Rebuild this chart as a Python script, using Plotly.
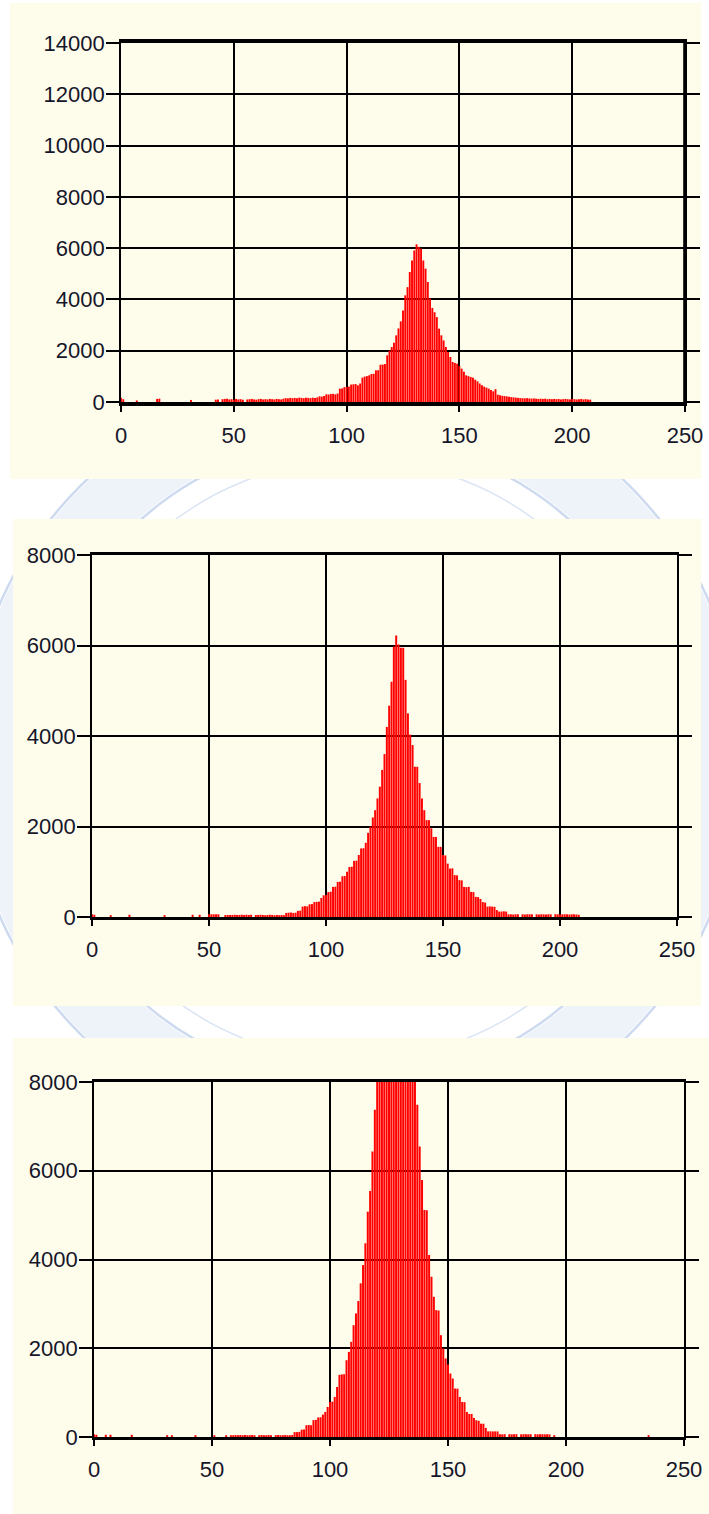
import plotly.graph_objects as go

W, H = 709, 1514

# ---------------- data (grey-level histograms, bins 0..255) ----------------
bins = list(range(256))

hist_top = [
    170, 110, 0, 0, 0, 0, 0, 60, 0, 0, 0, 0, 0, 0, 0, 0,
    120, 130, 0, 0, 0, 0, 0, 0, 0, 0, 0, 0, 0, 0, 0, 80,
    0, 0, 0, 0, 0, 0, 0, 0, 0, 0, 90, 100, 0, 110, 120, 130,
    100, 110, 90, 120, 100, 110, 90, 0, 100, 110, 120, 100, 90, 110, 120, 100,
    110, 100, 120, 110, 100, 120, 110, 100, 130, 150, 140, 160, 150, 160, 150, 170,
    160, 150, 170, 160, 150, 170, 160, 180, 220, 210, 230, 300, 290, 310, 320, 300,
    330, 520, 530, 580, 590, 600, 680, 690, 700, 650, 720, 950, 990, 1010, 1040, 1090,
    1100, 1235, 1240, 1450, 1460, 1480, 1820, 2000, 2145, 2310, 2600, 2870, 3145, 3570, 4160, 4480,
    5070, 5520, 5910, 6150, 6050, 5980, 5520, 5200, 4680, 4030, 3670, 3500, 3310, 2860, 2600, 2400,
    2145, 1950, 1755, 1560, 1520, 1494, 1400, 1300, 1180, 1040, 1010, 975, 950, 870, 806, 720,
    650, 600, 560, 520, 470, 416, 500, 286, 260, 240, 230, 220, 200, 190, 180, 170,
    160, 150, 150, 140, 150, 140, 130, 140, 130, 120, 130, 120, 130, 110, 120, 110,
    120, 110, 120, 100, 110, 120, 110, 100, 120, 110, 100, 110, 120, 100, 110, 100,
    90, 0, 0, 0, 0, 0, 0, 0, 0, 0, 0, 0, 0, 0, 0, 0,
    0, 0, 0, 0, 0, 0, 0, 0, 0, 0, 0, 0, 0, 0, 0, 0,
    0, 0, 0, 0, 0, 0, 0, 0, 0, 0, 0, 0, 0, 0, 0, 0,
]

hist_mid = [
    60, 50, 0, 0, 0, 0, 0, 0, 40, 0, 0, 0, 0, 0, 0, 0,
    50, 0, 0, 0, 0, 0, 0, 0, 0, 0, 0, 0, 0, 0, 0, 40,
    0, 0, 0, 0, 0, 0, 0, 0, 0, 0, 0, 50, 0, 0, 50, 0,
    0, 0, 60, 60, 60, 60, 60, 0, 0, 45, 45, 45, 45, 50, 45, 45,
    50, 45, 50, 45, 50, 0, 45, 45, 50, 45, 40, 45, 50, 45, 40, 45,
    40, 45, 40, 90, 95, 100, 90, 95, 135, 140, 230, 240, 235, 280, 285, 330,
    335, 340, 420, 480, 485, 550, 560, 665, 670, 775, 780, 900, 905, 1000, 1105, 1110,
    1240, 1245, 1370, 1515, 1520, 1640, 1860, 1995, 2200, 2360, 2620, 2880, 3250, 3600, 4200, 4670,
    5200, 5980, 6220, 6020, 5950, 5950, 5240, 4500, 4030, 3800, 3320, 3320, 2960, 2620, 2360, 2140,
    2140, 1960, 1770, 1770, 1550, 1550, 1370, 1360, 1180, 1070, 1075, 925, 920, 815, 810, 665,
    660, 665, 555, 550, 445, 440, 400, 330, 320, 230, 235, 230, 225, 155, 120, 120,
    125, 120, 60, 60, 55, 60, 60, 0, 60, 55, 60, 60, 60, 0, 60, 55,
    60, 60, 55, 60, 60, 0, 60, 60, 55, 60, 60, 60, 55, 60, 60, 55,
    50, 0, 0, 0, 0, 0, 0, 0, 0, 0, 0, 0, 0, 0, 0, 0,
    0, 0, 0, 0, 0, 0, 0, 0, 0, 0, 0, 0, 0, 0, 0, 0,
    0, 0, 0, 0, 0, 0, 0, 0, 0, 0, 0, 0, 0, 0, 0, 0,
]

hist_bot = [
    60, 50, 0, 0, 0, 50, 0, 50, 0, 0, 0, 0, 0, 0, 0, 0,
    50, 0, 0, 0, 0, 0, 0, 0, 0, 0, 0, 0, 0, 0, 0, 40,
    0, 40, 0, 0, 0, 0, 0, 0, 0, 0, 0, 40, 0, 0, 0, 0,
    0, 0, 0, 40, 0, 0, 0, 0, 40, 0, 40, 40, 45, 40, 45, 40,
    45, 40, 40, 45, 40, 0, 40, 45, 40, 40, 45, 40, 0, 40, 45, 40,
    40, 45, 40, 40, 45, 110, 110, 115, 165, 170, 265, 270, 265, 380, 385, 440,
    445, 505, 565, 677, 790, 795, 903, 1128, 1400, 1410, 1415, 1731, 1918, 2144, 2520, 2785,
    3063, 3462, 3875, 4365, 5078, 5545, 6432, 7374, 8600, 9300, 10100, 10800, 11400, 11900, 12300, 12500,
    12600, 12400, 12000, 11500, 10900, 10300, 9600, 9000, 8400, 7487, 6545, 5794, 5117, 5110, 4101, 3611,
    3160, 2860, 2850, 2295, 1995, 1770, 1634, 1431, 1318, 1092, 1090, 903, 790, 785, 565, 520,
    520, 430, 377, 365, 300, 300, 205, 127, 127, 125, 127, 125, 63, 60, 63, 0,
    63, 60, 63, 63, 0, 60, 63, 63, 60, 63, 0, 63, 60, 63, 63, 60,
    63, 60, 0, 40, 0, 0, 0, 0, 0, 0, 0, 0, 0, 0, 0, 0,
    0, 0, 0, 0, 0, 0, 0, 0, 0, 0, 0, 0, 0, 0, 0, 0,
    0, 0, 0, 0, 0, 0, 0, 0, 0, 0, 0, 40, 0, 0, 0, 0,
    0, 0, 0, 0, 0, 0, 0, 0, 0, 0, 0, 0, 0, 0, 0, 0,
]

x_ticks = [0, 50, 100, 150, 200, 250]
x_tick_text = ["0", "50", "100", "150", "200", "250"]
y_ticks_top = [0, 2000, 4000, 6000, 8000, 10000, 12000, 14000]
y_text_top = ["0", "2000", "4000", "6000", "8000", "10000", "12000", "14000"]
y_ticks_low = [0, 2000, 4000, 6000, 8000]
y_text_low = ["0", "2000", "4000", "6000", "8000"]

# ---------------- styling ----------------
CREAM = "#FEFDEC"
RED = "rgba(255,0,0,0.999)"
INK = "#16162a"
FONT = "Liberation Sans, Arial, sans-serif"


def fx(p):
    return p / W


def fy(p):
    return 1 - p / H


panels = [
    dict(data=hist_top, yticks=y_ticks_top, ytext=y_text_top, ymax=14000,
         plot=(121, 685, 43, 402), card=(10, 701, 3, 479),
         hgrid=2.0, vgrid=1.6, xline=3.6, yline=1.8, xstand=5),
    dict(data=hist_mid, yticks=y_ticks_low, ytext=y_text_low, ymax=8000,
         plot=(92, 677, 555, 917), card=(13, 701, 519, 1006),
         hgrid=2.3, vgrid=1.7, xline=2.6, yline=1.9, xstand=5),
    dict(data=hist_bot, yticks=y_ticks_low, ytext=y_text_low, ymax=8000,
         plot=(94, 684, 1082, 1437), card=(13, 709, 1038, 1514),
         hgrid=2.3, vgrid=1.7, xline=2.6, yline=1.9, xstand=5),
]

fig = go.Figure()
layout = dict(
    width=W, height=H,
    margin=dict(l=0, r=0, t=0, b=0, autoexpand=False),
    paper_bgcolor="white",
    plot_bgcolor="rgba(0,0,0,0)",
    showlegend=False,
    bargap=0.15,
    hovermode=False,
    font=dict(family=FONT, size=22, color=INK),
)

shapes = []
# faint watermark seal visible in the gaps between the panels
cx, cy = 355, 760
for r, w, c in [(355, 62, "#eef3fa"), (388, 2.5, "#cddaef"), (322, 2.5, "#cddaef"),
                (300, 1.5, "#dbe5f4")]:
    shapes.append(dict(type="circle", xref="paper", yref="paper",
                       x0=fx(cx - r), x1=fx(cx + r), y0=fy(cy + r), y1=fy(cy - r),
                       line=dict(color=c, width=w), layer="below"))
# cream cards
for p in panels:
    x0, x1, y0, y1 = p["card"]
    shapes.append(dict(type="rect", xref="paper", yref="paper",
                       x0=fx(x0), x1=fx(x1), y0=fy(y1), y1=fy(y0),
                       line=dict(width=0), fillcolor=CREAM, layer="below"))

for i, p in enumerate(panels, start=1):
    sx = "" if i == 1 else str(i)
    xa, ya = "x" + sx, "y" + sx
    fig.add_trace(go.Bar(x=bins, y=p["data"], xaxis=xa, yaxis=ya,
                         marker=dict(color=RED, line=dict(width=0)),
                         hoverinfo="skip"))
    px0, px1, py0, py1 = p["plot"]
    layout["xaxis" + sx] = dict(
        domain=[fx(px0), fx(px1)], anchor=ya, range=[0, 250],
        tickvals=x_ticks, ticktext=x_tick_text, ticks="outside", ticklen=6,
        tickwidth=p["vgrid"], tickcolor="black",
        showgrid=True, gridcolor="black", gridwidth=p["vgrid"],
        showline=True, linecolor="black", linewidth=p["xline"], mirror=True,
        zeroline=False, ticklabelstandoff=p["xstand"], automargin=False,
        fixedrange=True,
    )
    layout["yaxis" + sx] = dict(
        domain=[fy(py1), fy(py0)], anchor=xa, range=[0, p["ymax"]],
        tickvals=p["yticks"], ticktext=p["ytext"], ticks="outside", ticklen=13,
        tickwidth=p["hgrid"], tickcolor="black",
        showgrid=True, gridcolor="black", gridwidth=p["hgrid"],
        showline=True, linecolor="black", linewidth=p["yline"], mirror="ticks",
        zeroline=False, ticklabelstandoff=-3, automargin=False, fixedrange=True,
    )

# thicker right frame on the first panel
shapes.append(dict(type="line", xref="x", yref="y domain", x0=250, x1=250, y0=0, y1=1,
                   line=dict(color="black", width=3.6)))
layout["shapes"] = shapes
fig.update_layout(**layout)

fig.write_html(
    "out.html",
    config={"displayModeBar": False},
    post_script="document.body.style.margin='0';document.body.style.overflow='hidden';",
)
